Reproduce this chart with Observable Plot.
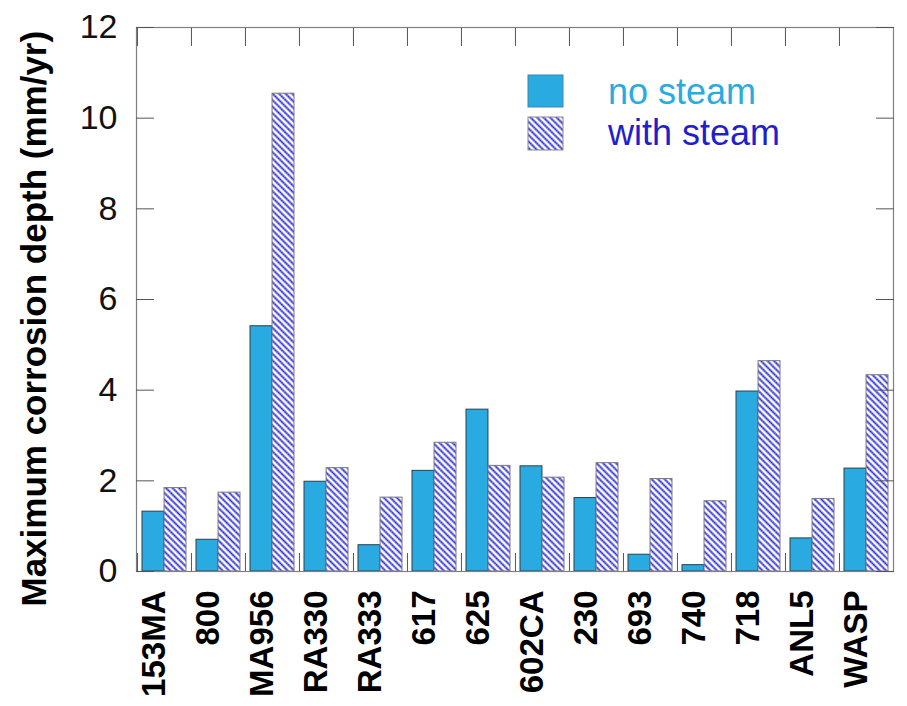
<!DOCTYPE html>
<html>
<head>
<meta charset="utf-8">
<script src="https://cdn.jsdelivr.net/npm/d3@7"></script>
<script src="https://cdn.jsdelivr.net/npm/@observablehq/plot@0.6"></script>
<style>
  html, body { margin: 0; padding: 0; background: #fff; }
  #chart { width: 907px; height: 706px; }
  svg { font-family: "Liberation Sans", Arial, sans-serif; }
</style>
</head>
<body>
<div id="chart"></div>
<script>
// Alloys tested
const categories = ["153MA", "800", "MA956", "RA330", "RA333", "617", "625", "602CA", "230", "693", "740", "718", "ANL5", "WASP"];
// Maximum corrosion depth (mm/yr) without steam
const noSteam = [1.32, 0.70, 5.41, 1.98, 0.58, 2.22, 3.57, 2.32, 1.62, 0.37, 0.14, 3.97, 0.73, 2.27];
// Maximum corrosion depth (mm/yr) with steam
const withSteam = [1.84, 1.74, 10.54, 2.28, 1.63, 2.84, 2.33, 2.07, 2.39, 2.04, 1.55, 4.64, 1.60, 4.33];
const seriesNames = ["no steam", "with steam"];
const yTicks = [0, 2, 4, 6, 8, 10, 12];
const yLabel = "Maximum corrosion depth (mm/yr)";

const rowsNo = categories.map((c, i) => ({alloy: c, series: seriesNames[0], value: noSteam[i]}));
const rowsWith = categories.map((c, i) => ({alloy: c, series: seriesNames[1], value: withSteam[i]}));

const W = 907, H = 706;
const mL = 136, mR = 14, mT = 27, mB = 135;
const step = (W - mL - mR) / categories.length;
const half = step / 2;
const pad = 5;

const BLUE = "#29abe2";
const DARKBLUE = "#1f1fcc";

const svg = Plot.plot({
  width: W,
  height: H,
  marginLeft: mL,
  marginRight: mR,
  marginTop: mT,
  marginBottom: mB,
  style: {fontFamily: "'Liberation Sans', Arial, sans-serif", background: "#fff", overflow: "visible"},
  x: {type: "band", domain: categories, padding: 0, axis: null},
  y: {domain: [0, 12], axis: null},
  marks: [
    Plot.barY(rowsNo, {x: "alloy", y: "value", fill: BLUE, stroke: "#2b3f4c", strokeWidth: 1, insetLeft: pad, insetRight: half}),
    Plot.barY(rowsWith, {x: "alloy", y: "value", fill: "url(#hatch)", stroke: "#7a7a7a", strokeWidth: 1, insetLeft: half, insetRight: pad}),
    Plot.frame({stroke: "#808080", strokeWidth: 1.2}),
    // inward ticks on all four sides
    Plot.axisY({anchor: "left", ticks: yTicks, tickSize: -18, text: null, label: null, stroke: "#555"}),
    Plot.axisY({anchor: "right", ticks: yTicks, tickSize: -18, text: null, label: null, stroke: "#555"}),
    Plot.axisX({anchor: "bottom", tickSize: -18, text: null, label: null, dx: -half, stroke: "#555"}),
    Plot.axisX({anchor: "top", tickSize: -18, text: null, label: null, dx: -half, stroke: "#555"}),
    // tick labels
    Plot.axisY({anchor: "left", ticks: yTicks, tickSize: 0, tickPadding: 19, fontSize: 34, fill: "#111", label: null}),
    Plot.axisX({anchor: "bottom", tickSize: 0, tickPadding: 19, tickRotate: -90, lineAnchor: "bottom", fontSize: 33, fontWeight: "bold", fill: "#000", label: null}),
    Plot.text([yLabel], {frameAnchor: "left", rotate: -90, textAnchor: "start", lineAnchor: "bottom", dx: -91, dy: 307, fontSize: 35, fontWeight: "bold", fill: "#000"})
  ]
});

// diagonal hatch used by the "with steam" bars
const root = d3.select(svg);
const defs = root.insert("defs", ":first-child");
const P = 4.6;
const pat = defs.append("pattern")
  .attr("id", "hatch")
  .attr("patternUnits", "userSpaceOnUse")
  .attr("width", P)
  .attr("height", P)
  .attr("patternTransform", "rotate(-45)");
pat.append("rect").attr("width", P).attr("height", P).attr("fill", "#fff");
pat.append("line").attr("x1", P / 2).attr("y1", 0).attr("x2", P / 2).attr("y2", P)
  .attr("stroke", "#8a8af0").attr("stroke-width", 2.2);
pat.append("line").attr("x1", P / 2).attr("y1", 0).attr("x2", P / 2).attr("y2", P)
  .attr("stroke", "#1c1cd0").attr("stroke-width", 1.4).attr("stroke-dasharray", "1.5 0.8");

// legend
const lg = root.append("g").attr("class", "legend").attr("text-anchor", "start");
lg.append("rect").attr("x", 528).attr("y", 75).attr("width", 35).attr("height", 32)
  .attr("fill", BLUE).attr("stroke", "#3d86b0").attr("stroke-width", 1);
lg.append("rect").attr("x", 528).attr("y", 117).attr("width", 35).attr("height", 33)
  .attr("fill", "url(#hatch)").attr("stroke", "#8a8a8a").attr("stroke-width", 1);
lg.append("text").attr("x", 608).attr("y", 104).attr("font-size", 36).attr("fill", BLUE).text(seriesNames[0]);
lg.append("text").attr("x", 608).attr("y", 145).attr("font-size", 36).attr("fill", DARKBLUE).text(seriesNames[1]);

document.getElementById("chart").appendChild(svg);
</script>
</body>
</html>
